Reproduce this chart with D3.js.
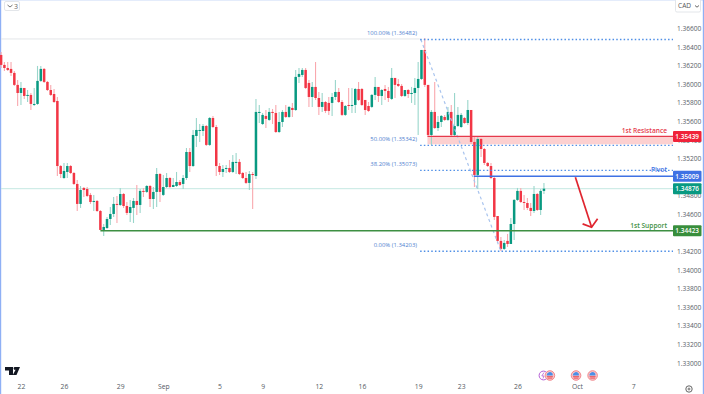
<!DOCTYPE html>
<html><head><meta charset="utf-8">
<style>html,body{margin:0;padding:0;background:#fff;overflow:hidden}svg{display:block}text{font-family:"Open Sans",Roboto,sans-serif}</style>
<script src="https://cdn.jsdelivr.net/npm/d3@7"></script></head><body><script>
// Prices are in 1e-5 units (pipettes); one entry per 4h candle.
const opens=[136315,136208,136175,136165,136122,135993,135906,135960,135874,135885,
135777,135788,136036,136165,136025,135938,135895,135820,135120,134991,
135056,135120,135045,134927,134712,134884,134873,134809,134733,134744,
134636,134432,134453,134550,134604,134712,134701,134819,134690,134615,
134669,134744,134701,134852,134841,134905,134765,134841,135034,134809,
134894,134991,134894,134905,134948,134927,134991,135271,135120,135443,
135497,135497,135551,135347,135637,135540,135120,135056,135088,135099,
135056,135153,135164,135045,134991,134938,135034,135013,135691,135572,
135659,135616,135702,135691,135486,135594,135702,135648,135745,135723,
136079,136100,136154,136014,135863,135971,135852,135756,135809,135799,
135799,135863,135917,135809,135670,135777,135766,135777,135949,135949,
135831,135766,135756,135885,135971,135874,135949,135928,135842,136068,
136003,135982,135874,135938,135895,135906,135960,136057,136369,135993,
135454,135702,135529,135594,135648,135616,135702,135454,135551,135540,
135637,135583,135723,135379,135024,135411,135303,135153,135120,134991,
134582,134314,134228,134314,134281,134496,134755,134852,134733,134722,
134669,134636,134819,134647,134852];
const closes=[136208,136175,136154,136122,135993,135906,135960,135874,135885,135788,
135788,136036,136165,136025,135938,135885,135809,135120,135034,135067,
135120,135045,134927,134712,134862,134862,134798,134733,134744,134636,
134432,134464,134550,134604,134712,134701,134819,134690,134615,134679,
134744,134701,134852,134841,134905,134765,134841,135034,134841,134894,
134991,134894,134916,134948,134916,134991,135271,135120,135454,135508,
135508,135551,135347,135637,135540,135120,135056,135088,135099,135056,
135164,135164,135034,134991,134938,135034,135024,135702,135702,135670,
135627,135702,135691,135486,135594,135702,135648,135756,135723,136079,
136111,136154,135960,135863,135971,135852,135756,135809,135713,135713,
135863,135917,135809,135670,135766,135766,135777,135949,135831,135777,
135723,135713,135885,135971,135874,135938,135928,135852,136068,135993,
135982,135874,135938,135895,135906,135960,136057,136369,135993,135454,
135702,135529,135594,135659,135616,135702,135454,135551,135670,135670,
135583,135723,135379,135024,135411,135303,135153,135120,134991,134572,
134314,134228,134292,134281,134496,134755,134852,134733,134722,134669,
134636,134819,134647,134852,134876];
const highs=[136347,136240,136240,136240,136143,136046,136025,135960,135938,135906,
135960,136197,136197,136175,136036,135993,135949,135863,135131,135153,
135153,135131,135056,134970,134905,134894,134894,134830,134809,134755,
134647,134496,134572,134679,134787,134798,134884,134830,134733,134755,
134776,134916,134873,134884,134916,134916,134894,135099,135045,135024,
135045,135002,134991,135056,134970,135024,135314,135314,135508,135637,
135572,135572,135562,135648,135659,135562,135153,135131,135131,135185,
135239,135260,135196,135056,135056,135067,135056,135842,135777,135691,
135723,135745,135734,135777,135702,135723,135777,135766,135799,136154,
136175,136175,136175,136046,136025,136240,135917,135906,135820,135863,
135906,136046,135960,135831,135777,135960,135960,135960,136025,135960,
135831,135809,135895,136079,135971,135949,135993,135971,136175,136068,
136057,136003,135938,135949,135971,136068,136240,136369,136498,135993,
135723,136025,135659,135670,135670,135756,135777,135906,135756,135691,
135648,135831,135723,135433,135443,135422,135314,135164,135153,135002,
134582,134357,134324,134389,134561,134765,134884,134884,134809,134776,
134722,134905,134830,134873,134938];
const lows=[136175,136143,136143,136089,135982,135766,135777,135842,135809,135723,
135766,135777,136025,136014,135928,135874,135799,135013,134991,134981,
134991,135034,134916,134636,134669,134787,134787,134712,134636,134625,
134432,134367,134443,134486,134572,134507,134690,134669,134593,134518,
134507,134593,134615,134787,134830,134679,134658,134679,134733,134798,
134884,134884,134894,134894,134905,134873,134970,135056,135110,135325,
135379,135443,135336,135336,135529,135013,135024,135002,135045,135045,
135045,135034,135024,134981,134927,134862,134658,134981,135583,135562,
135529,135605,135572,135476,135476,135540,135637,135637,135648,135713,
136014,136079,135949,135756,135756,135831,135670,135702,135691,135670,
135659,135831,135799,135659,135659,135723,135691,135691,135820,135766,
135670,135702,135745,135831,135809,135777,135831,135809,135831,135852,
135971,135863,135863,135852,135799,135777,135454,136046,135971,135443,
135347,135519,135497,135540,135605,135605,135433,135433,135540,135529,
135572,135562,135357,134894,134873,135217,135131,135110,134981,134539,
134292,134206,134216,134249,134281,134324,134744,134722,134647,134647,
134582,134615,134636,134593,134819];
const priceTicks=[1.366,1.364,1.362,1.36,1.358,1.356,1.354,1.352,1.348,1.346,1.342,1.34,1.338,1.336,1.334,1.332,1.33];
const timeIndex=[6,19,36,49,66,79,96,109,126,139,156,174,191];
const timeLabels=["22","26","29","Sep","5","9","12","16","19","23","26","Oct","7"];
const fibLevels=[1.36482,1.35342,1.35073,1.34203];
const fibNames=["100.00% (1.36482)","50.00% (1.35342)","38.20% (1.35073)","0.00% (1.34203)"];
const resistance=1.35439, resistanceLow=1.35354, pivot=1.35009, support=1.34423, lastClose=1.34876;
const arrowPath=[[173.5,1.35000],[178.4,1.34460]];
const eventIdx=[165.8,173.7,178.7];

const W=704,H=394,C={up:"#089981",dn:"#f23645",upW:"#9ad6cb",dnW:"#f9a8ae",blue:"#4f8fe6"};
const x=d3.scaleLinear().domain([0,200]).range([1.1,663.1]);
const y=d3.scaleLinear().domain([1.366,1.33]).range([28.5,363]);
const right=673;
const svg=d3.select("body").append("svg").attr("width",W).attr("height",H);
const candles=opens.map((o,i)=>({i,o:o/1e5,c:closes[i]/1e5,h:highs[i]/1e5,l:lows[i]/1e5}));

// frame
svg.append("rect").attr("x",0).attr("y",0).attr("width",W).attr("height",1).attr("fill","#e4ecfb");
svg.append("rect").attr("x",0).attr("y",0).attr("width",1.2).attr("height",H).attr("fill","#8fb0f5");
svg.append("rect").attr("x",702.8).attr("y",0).attr("width",1.2).attr("height",H).attr("fill","#8fb0f5");

// last price + high reference lines
svg.append("line").attr("x1",1).attr("x2",right).attr("y1",y(lastClose)).attr("y2",y(lastClose)).attr("stroke","#c4e8e2").attr("stroke-width",1);
svg.append("line").attr("x1",1).attr("x2",x(126.5)).attr("y1",y(1.36482)-.5).attr("y2",y(1.36482)-.5).attr("stroke","#e3e6ea").attr("stroke-width",1);

// resistance zone
svg.append("rect").attr("x",x(128.8)).attr("y",y(resistance)).attr("width",right-x(128.8)).attr("height",y(resistanceLow)-y(resistance)).attr("fill","#fcd0d0");

// candles
const g=svg.append("g");
g.selectAll("line.w").data(candles).join("line").attr("class","w")
 .attr("x1",d=>x(d.i)).attr("x2",d=>x(d.i)).attr("y1",d=>y(d.h)).attr("y2",d=>y(d.l))
 .attr("stroke",d=>d.c>=d.o?C.upW:C.dnW).attr("stroke-width",1.1);
g.selectAll("rect").data(candles).join("rect")
 .attr("x",d=>x(d.i)-1.25).attr("width",2.5)
 .attr("y",d=>y(Math.max(d.o,d.c))).attr("height",d=>Math.max(1,y(Math.min(d.o,d.c))-y(Math.max(d.o,d.c))))
 .attr("fill",d=>d.c>=d.o?C.up:C.dn);

// fib diagonal + levels
svg.append("line").attr("x1",x(126.8)).attr("y1",y(fibLevels[0])).attr("x2",x(151)).attr("y2",y(fibLevels[3]))
 .attr("stroke","#a9c4ee").attr("stroke-width",1.2).attr("stroke-dasharray","3 3");
svg.selectAll("line.fib").data(fibLevels).join("line").attr("class","fib")
 .attr("x1",x(126.6)).attr("x2",right).attr("y1",d=>y(d)).attr("y2",d=>y(d))
 .attr("stroke",C.blue).attr("stroke-width",1.4).attr("stroke-dasharray","1.5 2.2");
const fibDy=[-6,-6.5,-6,-6];
svg.selectAll("text.fib").data(fibLevels).join("text").attr("class","fib")
 .attr("x",417).attr("y",(d,i)=>y(d)+fibDy[i]+2).attr("text-anchor","end")
 .attr("font-size",5.9).attr("fill","#4f7fd0").text((d,i)=>fibNames[i]);

// key levels
svg.append("line").attr("x1",x(128.8)).attr("x2",right).attr("y1",y(resistance)).attr("y2",y(resistance)).attr("stroke","#e5394c").attr("stroke-width",1.3);
svg.append("line").attr("x1",x(142.8)).attr("x2",right).attr("y1",y(pivot)).attr("y2",y(pivot)).attr("stroke","#3f72e4").attr("stroke-width",1.5);
svg.append("line").attr("x1",x(30)).attr("x2",right).attr("y1",y(support)).attr("y2",y(support)).attr("stroke","#3d8f42").attr("stroke-width",1.4);
const names=[["1st Resistance",resistance,"#e5394c",-3],["Pivot",pivot,"#3f72e4",-4],["1st Support",support,"#3d8f42",-3]];
svg.selectAll("text.nm").data(names).join("text").attr("class","nm")
 .attr("x",667).attr("y",d=>y(d[1])+d[3]).attr("text-anchor","end").attr("font-size",6.6).attr("font-weight",600)
 .attr("fill",d=>d[2]).text(d=>d[0]);

// arrow
svg.append("path").attr("fill","none").attr("stroke","#e0252f").attr("stroke-width",1.7).attr("stroke-linejoin","miter")
 .attr("d",d3.line().x(d=>x(d[0])).y(d=>y(d[1]))(arrowPath));
const tip=arrowPath[1],tx=x(tip[0]),ty=y(tip[1]);
svg.append("path").attr("fill","none").attr("stroke","#e0252f").attr("stroke-width",1.7)
 .attr("d",`M${tx-9},${ty-3.5}L${tx},${ty}L${tx+6},${ty-8.5}`);

// price axis
const ay=svg.append("g").attr("transform",`translate(675,0)`).call(d3.axisRight(y).tickValues(priceTicks).tickSize(0).tickPadding(2).tickFormat(d3.format(".5f")));
ay.select(".domain").remove();
ay.selectAll("text").attr("font-size",6.6).attr("fill","#5a5e68").attr("font-family",'"Open Sans",Roboto,sans-serif');

// time axis
const ax=svg.append("g").attr("transform",`translate(0,384)`).call(d3.axisBottom(x).tickValues(timeIndex).tickSize(0).tickPadding(0).tickFormat((d,i)=>timeLabels[i]));
ax.select(".domain").remove();
ax.selectAll("text").attr("font-size",6.8).attr("fill","#555a64").attr("font-family",'"Open Sans",Roboto,sans-serif');

// price tags
const tags=[[resistance,"#f0233a"],[pivot,"#3f72e4"],[lastClose,C.up],[support,"#388e3c"]];
const tg=svg.selectAll("g.tag").data(tags).join("g").attr("class","tag").attr("transform",d=>`translate(673,${y(d[0])-5.5})`);
tg.append("rect").attr("width",28.5).attr("height",11).attr("rx",1).attr("fill",d=>d[1]);
tg.append("text").attr("x",14.2).attr("y",8.2).attr("text-anchor","middle").attr("font-size",6.4).attr("font-weight",600).attr("fill","#fff").text(d=>d3.format(".5f")(d[0]));

// chrome
const box=(bx,by,w,h)=>svg.append("rect").attr("x",bx).attr("y",by).attr("width",w).attr("height",h).attr("rx",1.5).attr("fill","#fff").attr("stroke","#e3e6ea");
box(4.5,1.5,15,9);
svg.append("path").attr("d","M7.5,5L10,7L12.5,5").attr("fill","none").attr("stroke","#666").attr("stroke-width",.9);
svg.append("text").attr("x",14).attr("y",8.5).attr("font-size",7).attr("fill","#666").text("3");
box(675.5,-2,25,14);
svg.append("text").attr("x",678).attr("y",8.3).attr("font-size",6.6).attr("fill","#555").text("CAD");
svg.append("path").attr("d","M695,5.5L697,7.2L699,5.5").attr("fill","none").attr("stroke","#555").attr("stroke-width",.9);
svg.append("path").attr("fill","#131722").attr("d","M5,367H13V375H9V370.5H5ZM14.5,367H20L16.5,375H12.8L15.6,369.7A1.4,1.4 0 1 1 14.5,367Z");

// event icons
const ev=(cx)=>{const e=svg.append("g").attr("transform",`translate(${cx},375.5)`);
 e.append("circle").attr("r",4.8).attr("fill","#f8c6c8").attr("stroke","#ef7f86").attr("stroke-width",.9);
 e.append("path").attr("d","M-3.3,0A3.3,3.3 0 0 1 2.8,-1.8L2.8,0Z").attr("fill","#4a8fe8");
 e.append("path").attr("d","M-3,1.2H3M-2.4,2.6H2.4").attr("stroke","#e8434d").attr("stroke-width",.9);};
svg.append("circle").attr("cx",543.5).attr("cy",375.5).attr("r",4.4).attr("fill","#fff").attr("stroke","#b55fd6").attr("stroke-width",1);
svg.append("path").attr("d","M544,372.5L541.8,376H544L543,378.5").attr("fill","none").attr("stroke","#b55fd6").attr("stroke-width",.8);
eventIdx.forEach(i=>ev(x(i)));

// settings
svg.append("circle").attr("cx",689).attr("cy",389).attr("r",3.2).attr("fill","none").attr("stroke","#555").attr("stroke-width",.9);
svg.append("circle").attr("cx",689).attr("cy",389).attr("r",1).attr("fill","none").attr("stroke","#555").attr("stroke-width",.8);
</script></body></html>
